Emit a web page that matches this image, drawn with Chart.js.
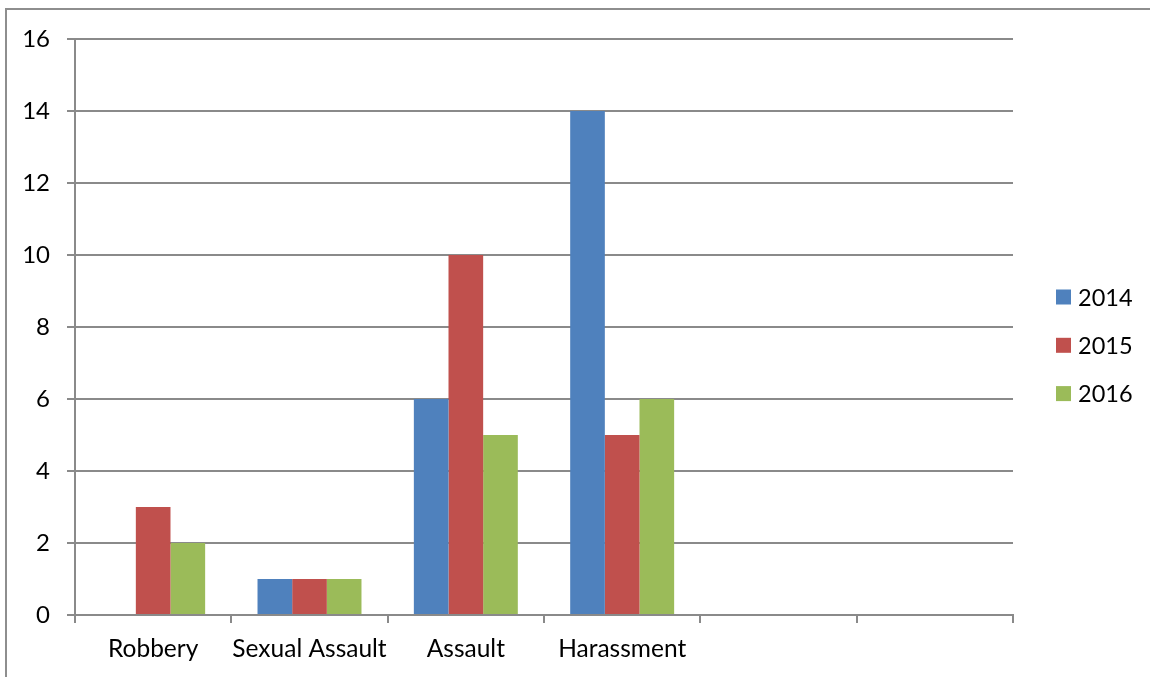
<!DOCTYPE html>
<html>
<head>
<meta charset="utf-8">
<title>Incidents by Year</title>
<script src="https://cdn.jsdelivr.net/npm/chart.js@4.4.1/dist/chart.umd.min.js"></script>
<style>
    body { margin: 0; width: 1150px; height: 677px; overflow: hidden; background: #fff; position: relative; }
    #frame { position: absolute; left: 5px; top: 8px; width: 1200px; height: 720px; border: 2px solid #8e8e8e; }
    #wrap { position: absolute; left: 0; top: 0; width: 1150px; height: 677px; }
</style>
</head>
<body>
<div id="frame"></div>
<div id="wrap"><canvas id="barChart"></canvas></div>
<script>
    // categories (last two are empty slots, as in the original sheet)
    const categories = ['Robbery', 'Sexual Assault', 'Assault', 'Harassment', '', ''];
    const years = ['2014', '2015', '2016'];
    const values_2014 = [0, 1, 6, 14, null, null];
    const values_2015 = [3, 1, 10, 5, null, null];
    const values_2016 = [2, 1, 5, 6, null, null];
    const colors = ['#4F81BD', '#C0504D', '#9BBB59'];

    const grid_color = '#8a8a8a';
    const font_family = 'Lato, "Open Sans", sans-serif';

    // simple legend on the right, drawn from the datasets
    const sideLegend = {
        id: 'sideLegend',
        afterDraw(chart) {
            const ctx = chart.ctx;
            ctx.save();
            ctx.font = '23.5px ' + font_family;
            ctx.textBaseline = 'middle';
            ctx.textAlign = 'left';
            chart.data.datasets.forEach((ds, i) => {
                const cy = 297 + i * 48.3;
                ctx.fillStyle = ds.backgroundColor;
                ctx.fillRect(1056, cy - 7.5, 15, 15);
                ctx.fillStyle = '#000';
                ctx.fillText(ds.label, 1078, cy + 1);
            });
            ctx.restore();
        }
    };

    document.addEventListener("DOMContentLoaded", function () {
        let ctx = document.getElementById('barChart').getContext('2d');
        const series = [values_2014, values_2015, values_2016];
        const config = {
            type: 'bar',
            data: {
                labels: categories,
                datasets: years.map((y, i) => ({
                    label: y,
                    data: series[i],
                    backgroundColor: colors[i],
                    borderWidth: 0,
                    categoryPercentage: 0.665,
                    barPercentage: 1
                }))
            },
            options: {
                responsive: false,
                animation: false,
                layout: { padding: { top: 39, right: 137, left: 0, bottom: 0 } },
                plugins: {
                    legend: { display: false },
                    tooltip: { enabled: false }
                },
                scales: {
                    x: {
                        grid: { offset: true, drawOnChartArea: false, drawTicks: true, tickLength: 8, color: grid_color, lineWidth: 2 },
                        border: { color: grid_color, width: 2 },
                        ticks: { color: '#000', padding: 11, font: { family: font_family, size: 24.5 }, maxRotation: 0, autoSkip: false },
                        afterFit: (scale) => { scale.height = 62; }
                    },
                    y: {
                        min: 0,
                        max: 16,
                        ticks: { stepSize: 2, color: '#000', padding: 17, font: { family: font_family, size: 24 } },
                        grid: { color: grid_color, lineWidth: 2, tickLength: 8 },
                        border: { color: grid_color, width: 2 },
                        afterFit: (scale) => { scale.width = 75; }
                    }
                }
            },
            plugins: [sideLegend]
        };
        const c = document.getElementById('barChart');
        c.width = 1150;
        c.height = 677;
        let incidentChart = new Chart(ctx, config);
    });
</script>
</body>
</html>
